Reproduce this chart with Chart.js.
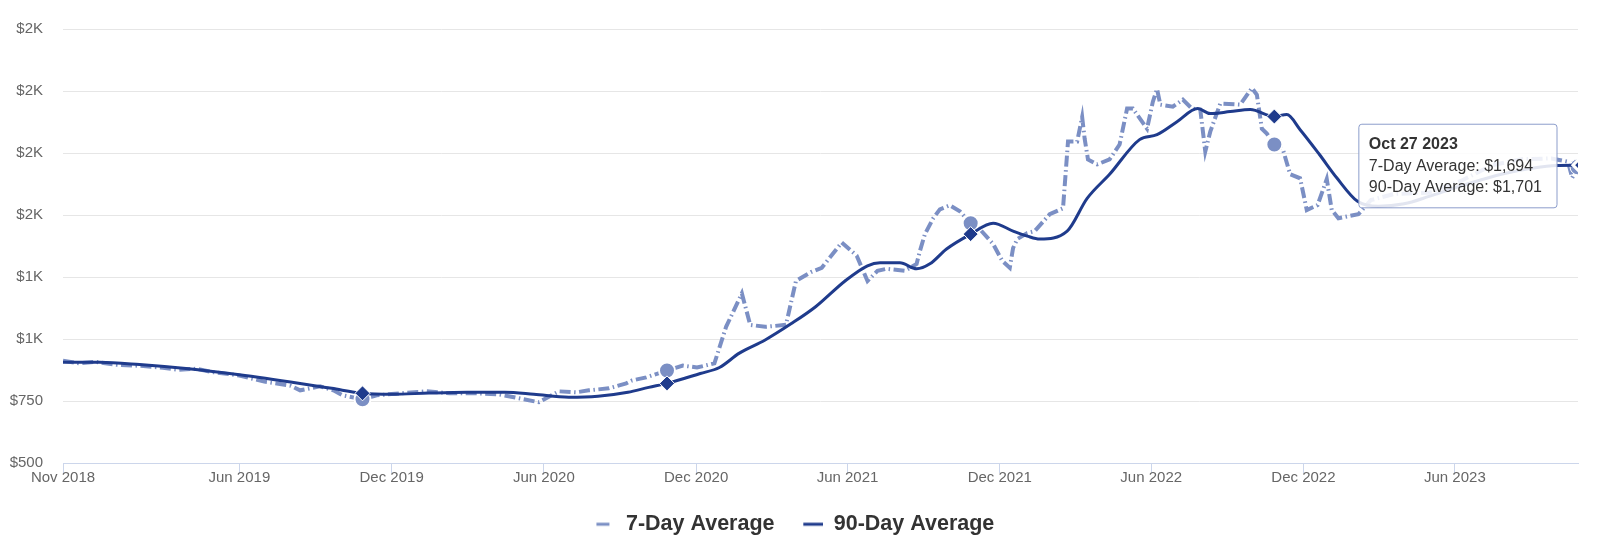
<!DOCTYPE html>
<html><head><meta charset="utf-8">
<script src="https://cdn.jsdelivr.net/npm/chart.js@4"></script>
<style>html,body{margin:0;padding:0;background:#fff;}#wrap{width:1600px;height:545px;position:relative;}</style>
</head><body><div id="wrap"><canvas id="c"></canvas></div>
<script>
const dates7 = ['2018-11-01','2018-11-20','2018-12-10','2019-01-05','2019-02-01','2019-03-01','2019-03-20','2019-04-10','2019-05-01','2019-06-01','2019-07-01','2019-08-01','2019-08-13','2019-09-06','2019-09-22','2019-10-03','2019-10-27','2019-11-13','2019-12-11','2020-01-12','2020-02-09','2020-03-13','2020-04-08','2020-05-02','2020-05-26','2020-06-19','2020-07-10','2020-07-25','2020-08-18','2020-09-08','2020-09-15','2020-10-02','2020-10-27','2020-11-15','2020-12-02','2020-12-23','2021-01-06','2021-01-25','2021-02-04','2021-02-22','2021-03-19','2021-03-31','2021-04-18','2021-05-01','2021-05-25','2021-06-12','2021-06-25','2021-07-07','2021-07-18','2021-08-09','2021-08-23','2021-08-27','2021-09-02','2021-09-12','2021-09-20','2021-10-02','2021-10-14','2021-10-27','2021-11-07','2021-11-23','2021-12-04','2021-12-13','2021-12-17','2021-12-22','2022-01-03','2022-01-12','2022-01-30','2022-02-15','2022-02-21','2022-03-04','2022-03-10','2022-03-13','2022-03-17','2022-03-28','2022-04-12','2022-04-24','2022-05-03','2022-05-10','2022-05-27','2022-06-03','2022-06-08','2022-06-12','2022-06-27','2022-07-09','2022-07-20','2022-07-30','2022-08-05','2022-08-11','2022-08-23','2022-09-16','2022-09-30','2022-10-06','2022-10-12','2022-10-18','2022-10-27','2022-11-06','2022-11-15','2022-11-27','2022-12-05','2022-12-18','2022-12-29','2023-01-04','2023-01-12','2023-02-05','2023-02-20','2023-03-20','2023-05-01','2023-06-10','2023-07-15','2023-08-20','2023-09-25','2023-10-15','2023-10-20','2023-10-27'];
const values7 = [912,902,908,896,892,884,876,880,866,853,828,812,793,809,793,773,757,773,781,789,781,781,777,761,745,789,785,793,801,821,833,845,873,893,885,902,1049,1184,1057,1049,1057,1234,1270,1287,1389,1336,1234,1275,1283,1275,1303,1355,1423,1487,1523,1539,1515,1467,1443,1383,1315,1287,1367,1403,1427,1435,1503,1527,1796,1796,1895,1808,1724,1704,1724,1784,1929,1929,1848,1957,2008,1945,1937,1965,1929,1925,1756,1836,1949,1945,2012,1985,1848,1828,1784,1768,1664,1648,1520,1540,1645,1520,1487,1503,1560,1585,1590,1640,1700,1725,1728,1715,1650,1694];

const dates90 = ['2018-11-01','2018-12-15','2019-02-01','2019-04-01','2019-06-01','2019-08-13','2019-09-20','2019-10-27','2019-12-01','2020-01-15','2020-03-01','2020-04-15','2020-05-20','2020-07-01','2020-08-05','2020-09-10','2020-10-05','2020-10-27','2020-12-06','2020-12-29','2021-01-22','2021-02-22','2021-03-25','2021-04-24','2021-05-29','2021-06-25','2021-07-10','2021-08-03','2021-08-23','2021-09-08','2021-09-28','2021-10-27','2021-11-23','2021-12-17','2022-01-03','2022-01-18','2022-02-20','2022-03-16','2022-04-12','2022-05-18','2022-06-08','2022-07-02','2022-07-27','2022-08-11','2022-09-04','2022-09-28','2022-10-27','2022-11-11','2022-11-27','2022-12-20','2023-01-10','2023-02-04','2023-03-01','2023-04-01','2023-05-01','2023-06-01','2023-07-01','2023-08-01','2023-09-01','2023-10-01','2023-10-27'];
const values90 = [906,906,897,880,856,821,801,781,777,782,785,785,777,765,769,785,805,821,861,885,943,996,1061,1131,1234,1295,1307,1307,1283,1303,1363,1423,1467,1435,1415,1403,1435,1567,1664,1804,1824,1876,1929,1909,1917,1925,1897,1905,1844,1745,1650,1555,1535,1545,1575,1610,1640,1668,1688,1700,1701];

const markerDates = ['2019-10-27','2020-10-27','2021-10-27','2022-10-27'];
const xTickDates = ['2018-11-01','2019-06-01','2019-12-01','2020-06-01','2020-12-01','2021-06-01','2021-12-01','2022-06-01','2022-12-01','2023-06-01'];
const xTickLabels = ['Nov 2018','Jun 2019','Dec 2019','Jun 2020','Dec 2020','Jun 2021','Dec 2021','Jun 2022','Dec 2022','Jun 2023'];
const yTicks = [500,750,1000,1250,1500,1750,2000,2250];
const xRange = ['2018-11-01','2023-10-27'];
const MONTHS = ['Jan','Feb','Mar','Apr','May','Jun','Jul','Aug','Sep','Oct','Nov','Dec'];

const FONT = "'Liberation Sans', Arial, Helvetica, sans-serif";
const C7 = '#7b8fc4', C90 = '#1f3b8c';
const ts = d => Date.parse(d + 'T00:00:00Z') / 86400000;

function symbol(color, from, to, w) {
  const c = document.createElement('canvas');
  c.width = w; c.height = 6;
  const g = c.getContext('2d');
  g.fillStyle = color; g.fillRect(from, 1.5, to - from, 3);
  return c;
}
const sym7 = symbol(C7, 13, 26, 32);
const sym90 = symbol(C90, 12, 32, 32);

const chart = new Chart(document.getElementById('c'), {
  type: 'line',
  data: {
    datasets: [
      {
        label: '7-Day Average',
        data: dates7.map((d, i) => ({x: ts(d), y: values7[i]})),
        borderColor: C7, backgroundColor: C7, borderWidth: 4,
        borderDash: [11, 3.5, 1.5, 3.5], borderCapStyle: 'butt', tension: 0,
        pointRadius: ctx => markerDates.includes(dates7[ctx.dataIndex]) ? 8 : 0,
        pointBackgroundColor: C7, pointBorderColor: '#fff', pointBorderWidth: 2,
        pointHoverRadius: 8, pointHoverBackgroundColor: C7, pointHoverBorderColor: '#fff', pointHoverBorderWidth: 1,
        order: 2
      },
      {
        label: '90-Day Average',
        data: dates90.map((d, i) => ({x: ts(d), y: values90[i]})),
        borderColor: C90, backgroundColor: C90, borderWidth: 3,
        cubicInterpolationMode: 'monotone',
        pointStyle: 'rectRot',
        pointRadius: ctx => markerDates.includes(dates90[ctx.dataIndex]) ? 7.5 : 0,
        pointBackgroundColor: C90, pointBorderColor: '#fff', pointBorderWidth: 1,
        pointHoverRadius: 5, pointHoverBackgroundColor: C90, pointHoverBorderColor: '#fff', pointHoverBorderWidth: 3,
        order: 1
      }
    ]
  },
  options: {
    responsive: true, maintainAspectRatio: false, animation: false, events: [],
    layout: {padding: {left: 0, right: 22, top: 17, bottom: 0}},
    scales: {
      x: {
        type: 'linear', min: ts(xRange[0]), max: ts(xRange[1]),
        afterBuildTicks: s => { s.ticks = xTickDates.map(d => ({value: ts(d)})); },
        afterFit: s => { s.height = 33.5; },
        ticks: {
          autoSkip: false, maxRotation: 0, padding: -4, color: '#666', font: {family: FONT, size: 15},
          callback: v => { const i = xTickDates.findIndex(d => ts(d) === v); return i >= 0 ? xTickLabels[i] : ''; }
        },
        grid: {drawOnChartArea: false, drawTicks: true, tickLength: 10, color: '#ccd6eb'},
        border: {color: '#ccd6eb', width: 1}
      },
      y: {
        type: 'linear', min: yTicks[0], max: yTicks[yTicks.length - 1],
        afterBuildTicks: s => { s.ticks = yTicks.map(v => ({value: v})); },
        afterFit: s => { s.width = 63; },
        ticks: {
          padding: 20, color: '#666', font: {family: FONT, size: 15},
          callback: v => v < 1000 ? '$' + v : '$' + Math.round(v / 1000) + 'K'
        },
        grid: {color: '#e6e6e6', drawTicks: false},
        border: {display: false}
      }
    },
    plugins: {
      legend: {
        position: 'bottom', align: 'center',
        labels: {
          usePointStyle: true, pointStyleWidth: 31.5, padding: 17, color: '#333',
          font: {family: FONT, size: 21.5, weight: 'bold'},
          generateLabels: ch => {
            const items = Chart.defaults.plugins.legend.labels.generateLabels(ch);
            items.forEach(it => { it.pointStyle = it.datasetIndex === 0 ? sym7 : sym90; it.lineDash = []; });
            return items.sort((a, b) => a.datasetIndex - b.datasetIndex);
          }
        }
      },
      tooltip: {
        enabled: true, position: 'average', xAlign: 'right', yAlign: 'center',
        caretSize: 0, caretPadding: 21,
        backgroundColor: 'rgba(255,255,255,0.87)', borderColor: '#8c9dcb', borderWidth: 1, cornerRadius: 3,
        titleColor: '#333', bodyColor: '#333',
        titleFont: {family: FONT, size: 16, weight: 'bold'}, bodyFont: {family: FONT, size: 16},
        padding: {top: 11, bottom: 11, left: 10, right: 15}, titleMarginBottom: 3, bodySpacing: 1,
        displayColors: false,
        itemSort: (a, b) => a.datasetIndex - b.datasetIndex,
        callbacks: {
          title: items => { const d = new Date(items[0].parsed.x * 86400000); return MONTHS[d.getUTCMonth()] + ' ' + d.getUTCDate() + ' ' + d.getUTCFullYear(); },
          label: it => it.dataset.label + ': $' + it.parsed.y.toLocaleString('en-US')
        }
      }
    }
  }
});

const act = [{datasetIndex: 0, index: values7.length - 1}, {datasetIndex: 1, index: values90.length - 1}];
chart.setActiveElements(act);
chart.tooltip.setActiveElements(act, {x: 0, y: 0});
chart.update();
</script>
</body></html>
